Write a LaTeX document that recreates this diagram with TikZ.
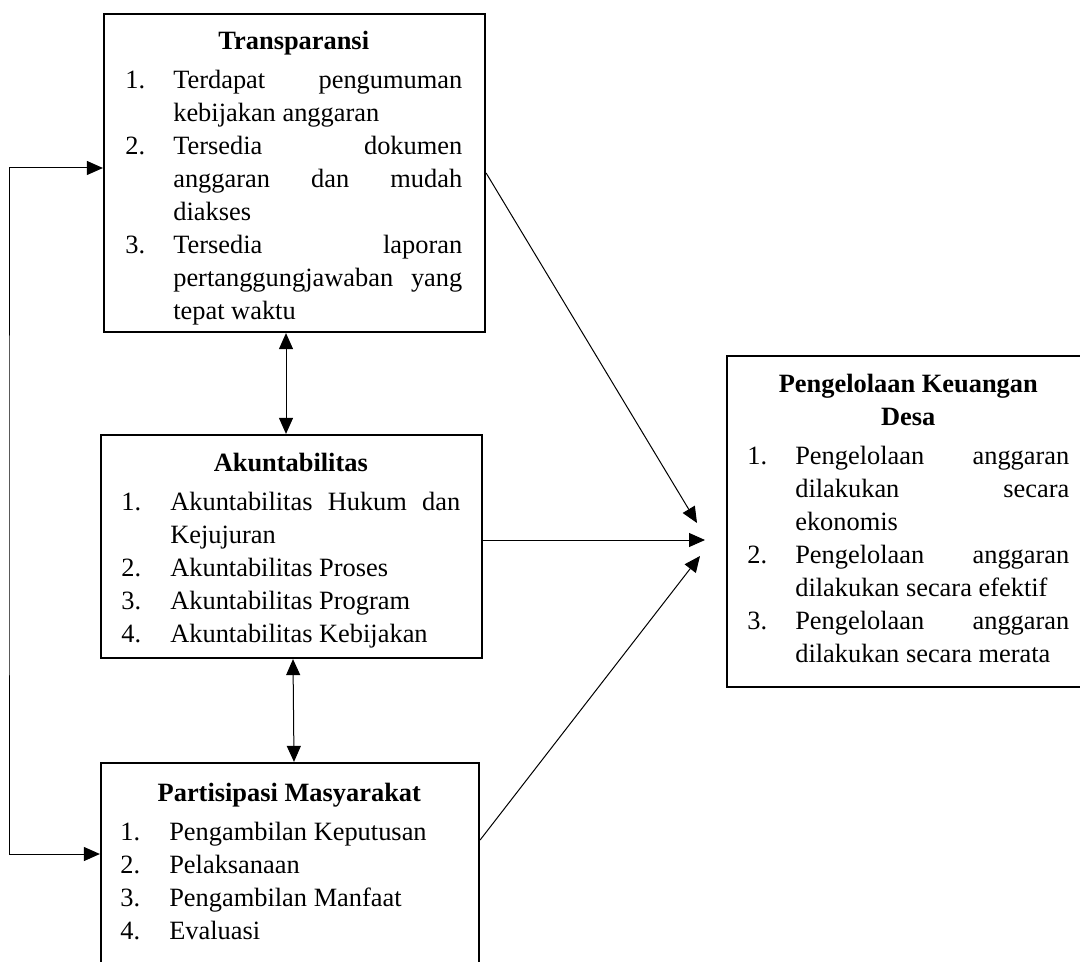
\documentclass[tikz,border=0pt]{standalone}
\usepackage{fontspec}
\setmainfont{Liberation Serif}
\usetikzlibrary{positioning,arrows.meta}
\tolerance=10000
\hbadness=10000
\newcommand{\butir}[3]{\par\hangindent=#1\hangafter=1\noindent\makebox[#1][l]{#2}#3\par}
\newcommand{\judul}[1]{{\centering\bfseries\noindent\strut #1\par}\vspace{3pt}}

\begin{document}
\begin{tikzpicture}[x=0.5pt,y=-0.5pt,
    box/.style={draw,line width=1.1pt,inner sep=0pt},
    txt/.style={inner sep=0pt,align=justify,font=\fontsize{13.2}{16.5}\selectfont},
    link/.style={line width=0.5pt,-{Triangle[length=8pt,width=7pt]}},
    both/.style={line width=0.5pt,{Triangle[length=8pt,width=7pt]}-{Triangle[length=8pt,width=7pt]}}]
        % Page frame
        \useasboundingbox (0,0) rectangle (1080,962);
        \clip (0,0) rectangle (1080,962);
        % Draw boxes
        \node[box,minimum width=190.5pt,minimum height=159pt] (trans) at (294.5,173) {};
        \node[box,minimum width=190.5pt,minimum height=111.5pt] (akun) at (291.5,546.5) {};
        \node[box,minimum width=189pt,minimum height=111pt] (partisipasi) at (290,874) {};
        \node[box,minimum width=186.5pt,minimum height=165.5pt] (kelola) at (913.5,521.5) {};
        % Draw box texts
        \node[txt,text width=168.5pt,below right=6.5pt and 11pt of trans.north west] (transisi) {
            \judul{Transparansi}
            \butir{24pt}{1.}{Terdapat pengumuman\linebreak kebijakan anggaran}
            \butir{24pt}{2.}{Tersedia dokumen\linebreak anggaran dan mudah\linebreak diakses}
            \butir{24pt}{3.}{Tersedia laporan\linebreak pertanggungjawaban yang\linebreak tepat waktu}
        };
        \node[txt,text width=169.5pt,below right=7pt and 10.5pt of akun.north west] (akunisi) {
            \judul{Akuntabilitas}
            \butir{24.5pt}{1.}{Akuntabilitas Hukum dan\linebreak Kejujuran}
            \butir{24.5pt}{2.}{Akuntabilitas Proses}
            \butir{24.5pt}{3.}{Akuntabilitas Program}
            \butir{24.5pt}{4.}{Akuntabilitas Kebijakan}
        };
        \node[txt,text width=169pt,below right=8pt and 10pt of partisipasi.north west] (partisi) {
            \judul{Partisipasi Masyarakat}
            \butir{24.5pt}{1.}{Pengambilan Keputusan}
            \butir{24.5pt}{2.}{Pelaksanaan}
            \butir{24.5pt}{3.}{Pengambilan Manfaat}
            \butir{24.5pt}{4.}{Evaluasi}
        };
        \node[txt,text width=161pt,below right=7pt and 10.5pt of kelola.north west] (kelolaisi) {
            \judul{Pengelolaan Keuangan\\ Desa}
            \butir{24pt}{1.}{Pengelolaan anggaran\linebreak dilakukan secara\linebreak ekonomis}
            \butir{24pt}{2.}{Pengelolaan anggaran\linebreak dilakukan secara efektif}
            \butir{24pt}{3.}{Pengelolaan anggaran\linebreak dilakukan secara merata}
        };
        % Arrow ends
        \coordinate (tujuanA) at (697,523);
        \coordinate (tujuanB) at (705,540);
        \coordinate (tujuanC) at (700,556);
        \coordinate (kiri) at (9,500);
        % Draw arrows to the right box
        \draw[link] (trans.east) -- (tujuanA);
        \draw[link] ([yshift=3.25pt]akun.east) -- (tujuanB);
        \draw[link] ([yshift=17pt]partisipasi.east) -- (tujuanC);
        % Draw arrows between left boxes
        \draw[both] ([xshift=-4.25pt]trans.south) -- ([xshift=-2.75pt]akun.north);
        \draw[both] ([xshift=0.75pt]akun.south) -- ([xshift=2pt]partisipasi.north);
        \draw[both] ([yshift=2.5pt]trans.west) -| (kiri) |- ([yshift=10pt]partisipasi.west);
\end{tikzpicture}
\end{document}
